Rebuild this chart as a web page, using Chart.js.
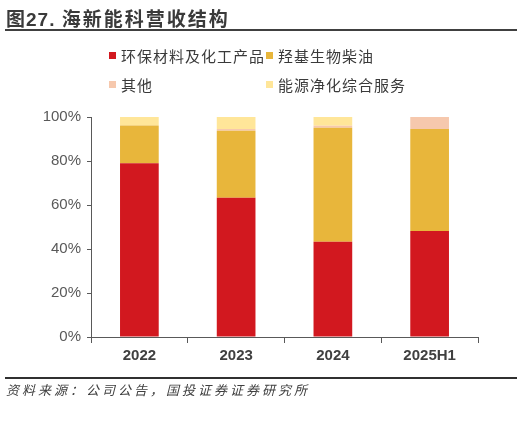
<!DOCTYPE html>
<html>
<head>
<meta charset="utf-8">
<script src="https://cdn.jsdelivr.net/npm/chart.js@4"></script>
<style>
  html, body { margin: 0; padding: 0; background: #fff; }
  #wrap { position: relative; width: 529px; height: 438px; overflow: hidden; font-family: "Liberation Sans", "Noto Sans CJK SC", sans-serif; }
  #chart { position: absolute; left: 0; top: 0; }
  #title { position: absolute; left: 6px; top: 4px; font-size: 19px; font-weight: bold; color: #3a3a3a; letter-spacing: 1px; font-family: "Liberation Sans", "Noto Sans CJK SC", sans-serif; }
  #title .cn { letter-spacing: 2px; }
  #topLine { position: absolute; left: 5px; width: 512px; top: 29px; height: 2px; background: #404040; }
  #botLine { position: absolute; left: 5px; width: 512px; top: 377px; height: 2px; background: #303030; }
  #source { position: absolute; left: 6px; top: 380px; font-size: 13px; font-style: italic; color: #404040; letter-spacing: 3px; font-family: "Noto Sans CJK SC", sans-serif; }
  .leg { position: absolute; font-size: 15px; color: #3a3a3a; letter-spacing: 1px; font-family: "Noto Sans CJK SC", sans-serif; white-space: nowrap; }
  .leg i { display: inline-block; width: 7px; height: 7px; margin-right: 5px; vertical-align: 3px; }
</style>
</head>
<body>
<div id="wrap">
  <canvas id="chart" width="529" height="438"></canvas>
  <div id="title">图27. <span class="cn">海新能科营收结构</span></div>
  <div id="topLine"></div>
  <div id="legend"></div>
  <div id="botLine"></div>
  <div id="source">资料来源：公司公告，国投证券证券研究所</div>
</div>
<script>
// 数据
const categories = ['2022', '2023', '2024', '2025H1'];
const seriesNames = ['环保材料及化工产品', '羟基生物柴油', '其他', '能源净化综合服务'];
const envMaterials = [79.0, 63.3, 43.3, 48.2];
const biodiesel = [17.1, 30.5, 51.8, 46.3];
const others = [0.0, 0.7, 0.9, 5.5];
const energyService = [3.9, 5.5, 4.0, 0.0];
const yTicks = [0, 20, 40, 60, 80, 100];

const colors = ['#D2181F', '#E8B63B', '#F6C8AD', '#FFE699'];
const seriesValues = [envMaterials, biodiesel, others, energyService];

// 图例（两行两列）
function renderLegend() {
  const legend = document.getElementById('legend');
  const pos = [[109, 45], [266, 45], [109, 74], [266, 74]];
  seriesNames.forEach((name, i) => {
    const el = document.createElement('div');
    el.className = 'leg';
    el.style.left = pos[i][0] + 'px';
    el.style.top = pos[i][1] + 'px';
    el.innerHTML = `<i style="background:${colors[i]}"></i>${name}`;
    legend.appendChild(el);
  });
}

// 渲染堆叠柱状图
function renderChart() {
  const ctx = document.getElementById('chart').getContext('2d');

  new Chart(ctx, {
    type: 'bar',
    data: {
      labels: categories,
      datasets: seriesNames.map((name, i) => ({
        label: name,
        data: seriesValues[i],
        backgroundColor: colors[i],
        borderWidth: 0,
        categoryPercentage: 1,
        barPercentage: 0.4
      }))
    },
    options: {
      responsive: false,
      animation: false,
      layout: {
        padding: { left: 0, right: 51, top: 117, bottom: 71 }
      },
      scales: {
        x: {
          stacked: true,
          grid: {
            offset: true,
            drawOnChartArea: false,
            drawTicks: true,
            tickLength: 6,
            color: '#595959'
          },
          border: { color: '#595959', width: 1 },
          ticks: {
            color: '#404040',
            font: { family: 'Liberation Sans', size: 15, weight: 'bold' },
            padding: 4
          },
          afterFit: scale => { scale.height = 30; }
        },
        y: {
          stacked: true,
          min: 0,
          max: 100,
          afterBuildTicks: scale => {
            scale.ticks = yTicks.map(v => ({ value: v }));
          },
          grid: {
            drawOnChartArea: false,
            drawTicks: true,
            tickLength: 4,
            color: '#595959'
          },
          border: { color: '#595959', width: 1 },
          ticks: {
            color: '#595959',
            font: { family: 'Liberation Sans', size: 15 },
            padding: 6,
            callback: v => v + '%'
          },
          afterFit: scale => { scale.width = 91; }
        }
      },
      plugins: {
        legend: { display: false },
        tooltip: { enabled: false }
      }
    }
  });
}

renderLegend();
renderChart();
</script>
</body>
</html>
